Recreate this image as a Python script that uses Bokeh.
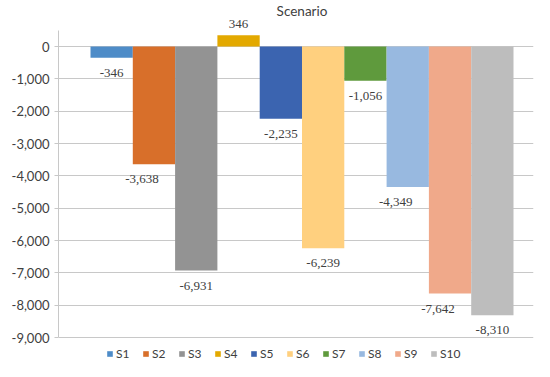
from bokeh.plotting import figure
from bokeh.models import (ColumnDataSource, Range1d, FixedTicker, NumeralTickFormatter,
                          Legend, LegendItem, LabelSet, Label)
from bokeh.embed import file_html
from bokeh.resources import INLINE

# ---- data ----
scenarios = ["S1", "S2", "S3", "S4", "S5", "S6", "S7", "S8", "S9", "S10"]
values = [-346, -3638, -6931, 346, -2235, -6239, -1056, -4349, -7642, -8310]
colors = ["#4E8CC8", "#D86F2A", "#939393", "#E3A900", "#3B64B0",
          "#FFD07F", "#5F9A3D", "#98B9E0", "#F0A98A", "#BDBDBD"]
y_ticks = [0, -1000, -2000, -3000, -4000, -5000, -6000, -7000, -8000, -9000]
title_text = "Scenario"

FONT = "Lato"
TXT = "#404040"
GRID = "#C8C8C8"

# ---- layout constants (pixels inside the figure) ----
W, H = 534, 361
LEFT, RIGHT = 58, 1
PX_ZERO, PX_MIN = 46, 337          # screen rows of y=0 and y=-9000
BAR_PX = 42.3
PAD_L, PAD_R = 32, 20
label_dx = [0, -12, 0, 0, 0, 0, 0, -12, -12, 0]   # label nudges (px)

y_min, y_axis_top = y_ticks[-1], 500
upp = (0 - y_min) / (PX_MIN - PX_ZERO)            # data units per pixel
y_top = PX_ZERO * upp
y_bot = y_min - (H - PX_MIN) * upp

xs = list(range(len(scenarios)))
labels = [f"{v:,}" for v in values]

src = ColumnDataSource(dict(x=xs, v=values, c=colors, name=scenarios))

def sub(cond):
    idx = [i for i in xs if cond(values[i])]
    return ColumnDataSource(dict(x=[xs[i] for i in idx], v=[values[i] for i in idx],
                                 lab=[labels[i] for i in idx],
                                 dx=[label_dx[i] for i in idx]))

pos_src = sub(lambda v: v >= 0)
neg_src = sub(lambda v: v < 0)

p = figure(width=W, height=H, output_backend="svg", toolbar_location=None, title=None,
           x_range=Range1d(-0.5 - PAD_L / BAR_PX, len(scenarios) - 0.5 + PAD_R / BAR_PX),
           y_range=Range1d(y_bot, y_top),
           min_border_left=LEFT, min_border_right=RIGHT, min_border_top=0,
           min_border_bottom=0)

p.outline_line_color = None
p.background_fill_color = "white"
p.border_fill_color = "white"

r = p.vbar(x="x", top="v", bottom=0, width=1.0, fill_color="c", line_color=None,
           source=src)
items = [LegendItem(label=scenarios[i], renderers=[r], index=i) for i in xs]

p.add_layout(LabelSet(x="x", y="v", text="lab", source=neg_src, x_offset="dx",
                      y_offset=-11, text_align="center", text_baseline="top",
                      text_font=FONT, text_font_size="13px", text_color=TXT))
p.add_layout(LabelSet(x="x", y="v", text="lab", source=pos_src, x_offset="dx",
                      y_offset=7, text_align="center", text_baseline="bottom",
                      text_font=FONT, text_font_size="13px", text_color=TXT))

p.add_layout(Label(x=(len(scenarios) - 1) / 2, y=y_top - 10 * upp, text=title_text,
                   text_align="center", text_baseline="middle", text_font=FONT,
                   text_font_size="13.5px", text_color=TXT))

p.xaxis.visible = False
p.xgrid.grid_line_color = None
p.ygrid.grid_line_color = GRID
p.ygrid.ticker = FixedTicker(ticks=y_ticks)

ax = p.yaxis[0]
ax.ticker = FixedTicker(ticks=y_ticks)
ax.bounds = (y_min, y_axis_top)
ax.formatter = NumeralTickFormatter(format="0,0")
ax.axis_line_color = GRID
ax.major_tick_line_color = GRID
ax.major_tick_out = 4
ax.major_tick_in = 0
ax.minor_tick_line_color = None
ax.major_label_text_font = FONT
ax.major_label_text_font_size = "13px"
ax.major_label_text_color = TXT
ax.major_label_standoff = 5

legend = Legend(items=items, orientation="horizontal", location=(48, 0),
                glyph_width=7, glyph_height=7, label_standoff=3, spacing=6,
                label_text_font=FONT, label_text_font_size="12px",
                label_text_color=TXT, border_line_color=None,
                background_fill_alpha=0, padding=0, margin=0, label_height=14)
p.add_layout(legend, "center")

open("out.html", "w").write(file_html(p, INLINE))
